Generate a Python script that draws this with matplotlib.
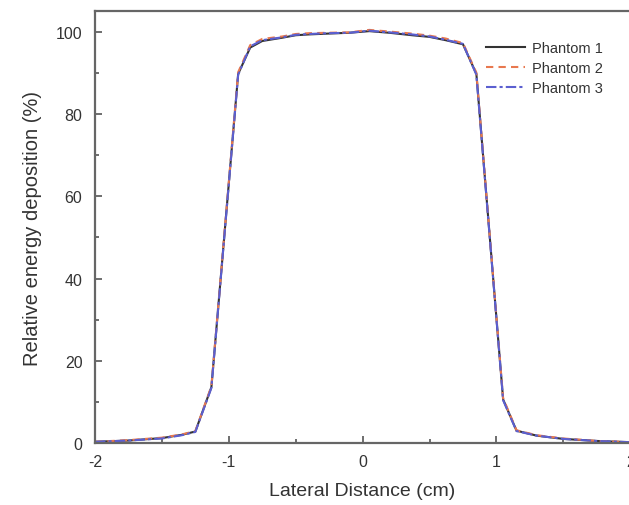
import matplotlib
matplotlib.use("Agg")
import matplotlib.pyplot as plt
from matplotlib.ticker import MultipleLocator

plt.rcParams['font.family'] = ['Liberation Sans', 'DejaVu Sans']
plt.rcParams['axes.unicode_minus'] = False

x = [-2.0, -1.75, -1.5, -1.35, -1.25, -1.13, -0.93, -0.84, -0.75, -0.6, -0.5, -0.4,
     -0.26, -0.1, 0.05, 0.2, 0.37, 0.5, 0.62, 0.75, 0.85, 1.05, 1.15, 1.3, 1.5, 1.75, 2.0]
phantom1 = [0.3, 0.6, 1.2, 2.0, 2.8, 13.6, 89.8, 96.2, 97.8, 98.6, 99.2, 99.4,
            99.6, 99.8, 100.2, 99.8, 99.2, 98.8, 98.0, 97.0, 89.8, 10.6, 3.0, 1.8, 1.0, 0.5, 0.2]
phantom2 = [0.3, 0.7, 1.3, 2.1, 2.9, 13.8, 90.2, 96.8, 98.3, 98.9, 99.5, 99.7,
            99.8, 99.9, 100.5, 100.1, 99.6, 99.1, 98.4, 97.3, 90.1, 10.9, 3.1, 1.9, 1.1, 0.5, 0.2]
phantom3 = [0.3, 0.6, 1.1, 1.9, 2.7, 13.4, 89.6, 96.5, 98.0, 98.7, 99.3, 99.5,
            99.7, 99.8, 100.3, 99.9, 99.4, 98.9, 98.1, 97.1, 89.6, 10.4, 2.9, 1.8, 1.0, 0.5, 0.2]

series = [
    ("Phantom 1", phantom1, dict(color="#333333", linestyle="-")),
    ("Phantom 2", phantom2, dict(color="#e8784f", linestyle=(0, (3.5, 2.5)))),
    ("Phantom 3", phantom3, dict(color="#5b5fd0", linestyle=(0, (5, 1.5, 1.5, 1.5)))),
]

fig = plt.figure(figsize=(6.29, 5.06), dpi=100)
ax = fig.add_axes([0.151, 0.1225, 0.851, 0.853])

for label, y, style in series:
    ax.plot(x, y, label=label, linewidth=1.5, **style)

ax.set_xlim(-2, 2)
ax.set_ylim(0, 105)
ax.xaxis.set_major_locator(MultipleLocator(1))
ax.xaxis.set_minor_locator(MultipleLocator(0.5))
ax.yaxis.set_major_locator(MultipleLocator(20))
ax.yaxis.set_minor_locator(MultipleLocator(10))
ax.tick_params(which='both', direction='in', colors='#555555', labelcolor='#333333',
               labelsize=11.5, width=1.2)
ax.tick_params(which='major', length=5)
ax.tick_params(which='minor', length=3)
ax.tick_params(axis='y', which='major', pad=9)
ax.tick_params(axis='x', which='major', pad=8)
for s in ax.spines.values():
    s.set_color('#666666')
    s.set_linewidth(1.6)

ax.set_xlabel("Lateral Distance (cm)", fontsize=14, color='#333333', labelpad=9)
ax.set_ylabel("Relative energy deposition (%)", fontsize=14.5, color='#333333', labelpad=10)

leg = ax.legend(loc='upper left', bbox_to_anchor=(480 / 629, 1 - 36 / 506),
                bbox_transform=fig.transFigure, borderaxespad=0, frameon=False,
                fontsize=10.5, handlelength=2.7, labelspacing=0.42, handletextpad=0.5)
for t in leg.get_texts():
    t.set_color('#333333')

fig.savefig("out.png", dpi=100)
